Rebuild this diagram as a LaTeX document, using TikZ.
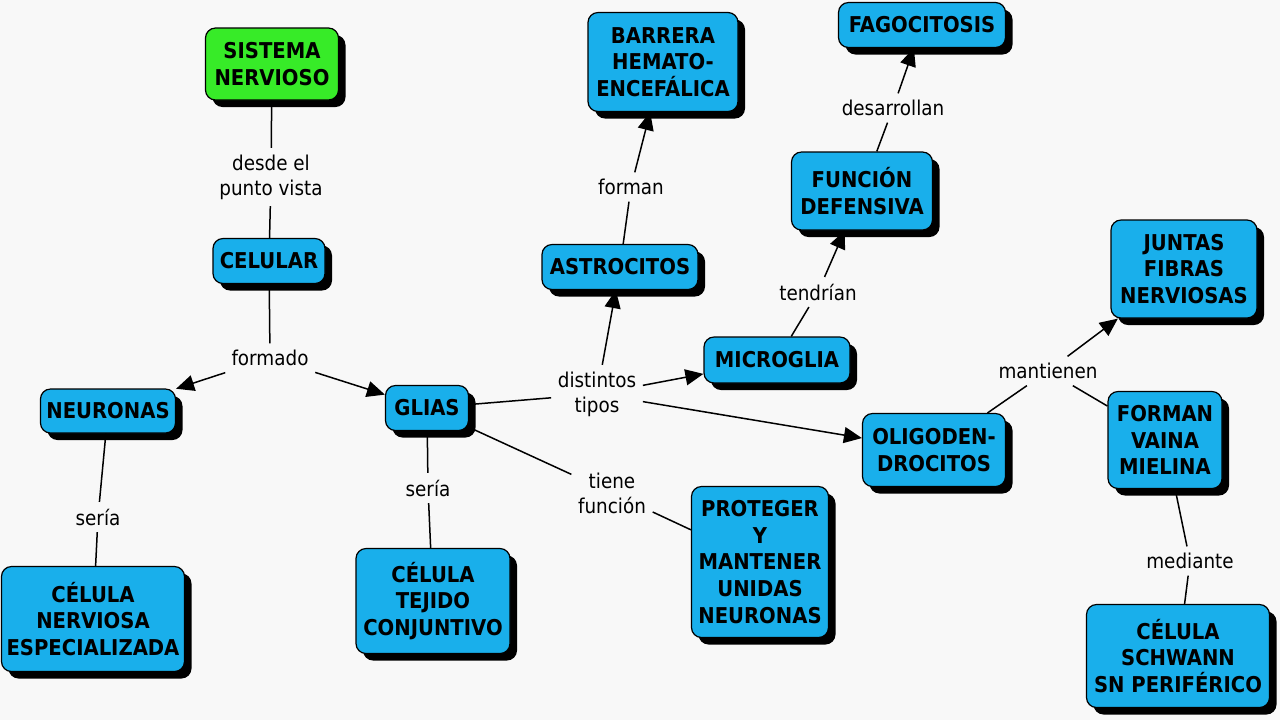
\documentclass[tikz,border=0pt]{standalone}
\usepackage{fontspec}
\setmainfont[FakeStretch=0.9]{DejaVu Sans}
\usetikzlibrary{arrows.meta,shadows}
\definecolor{azul}{RGB}{25,175,235}
\definecolor{verde}{RGB}{55,235,40}
\definecolor{fondo}{RGB}{248,248,248}
\tikzset{
  concepto/.style={draw, line width=0.6pt, rounded corners=5pt, fill=azul, align=center,
    font=\bfseries\fontsize{10.9}{13.4}\selectfont, inner sep=1pt,
    drop shadow={shadow xshift=3.5pt, shadow yshift=-3.5pt, fill=black, opacity=1}},
  tam/.style 2 args={minimum width=#1*0.5pt, minimum height=#2*0.5pt},
  enlace/.style={align=center, font=\fontsize{10.2}{12.5}\selectfont, inner sep=3pt},
  flecha/.style={-{Triangle[length=9pt,width=8pt]}}
}

\begin{document}
\begin{tikzpicture}[x=0.5pt,y=-0.5pt,line width=0.75pt]
          \fill[fondo] (0,0) rectangle (1280,720);
          \useasboundingbox (0,0) rectangle (1280,720);
          % conceptos
          \node[concepto, fill=verde, tam={133}{72}](sn) at (272,64){SISTEMA\\NERVIOSO};
          \node[concepto, tam={112}{45}](cel) at (269,261){CELULAR};
          \node[concepto, tam={135}{44}](neur) at (108,411){NEURONAS};
          \node[concepto, tam={83}{45}](glias) at (427,408){GLIAS};
          \node[concepto, tam={183}{105}](cnerv) at (93,619){CÉLULA\\NERVIOSA\\ESPECIALIZADA};
          \node[concepto, tam={154}{105}](ctej) at (433,601){CÉLULA\\TEJIDO\\CONJUNTIVO};
          \node[concepto, tam={137}{151}](prot) at (760,562){PROTEGER\\Y\\MANTENER\\UNIDAS\\NEURONAS};
          \node[concepto, tam={156}{45}](astro) at (620,267){ASTROCITOS};
          \node[concepto, tam={150}{99}](barr) at (663,62){BARRERA\\HEMATO-\\ENCEFÁLICA};
          \node[concepto, tam={146}{46}](micro) at (777,360){MICROGLIA};
          \node[concepto, tam={141}{78}](fdef) at (862,191){FUNCIÓN\\DEFENSIVA};
          \node[concepto, tam={167}{45}](fago) at (922,25){FAGOCITOSIS};
          \node[concepto, tam={143}{73}](oligo) at (934,450){OLIGODEN-\\DROCITOS};
          \node[concepto, tam={146}{98}](juntas) at (1184,269){JUNTAS\\FIBRAS\\NERVIOSAS};
          \node[concepto, tam={114}{97}](vaina) at (1165,440){FORMAN\\VAINA\\MIELINA};
          \node[concepto, tam={183}{103}](schw) at (1178,656){CÉLULA\\SCHWANN\\SN PERIFÉRICO};
          % enlaces
          \node[enlace](desde) at (271,177){desde el\\punto vista};
          \node[enlace](formado) at (270,358){formado};
          \node[enlace](seria1) at (98,517){sería};
          \node[enlace](seria2) at (428,488){sería};
          \node[enlace](tipos) at (597,394){distintos\\tipos};
          \node[enlace](funcion) at (612,493){tiene\\función};
          \node[enlace](forman) at (631,187){forman};
          \node[enlace](tendrian) at (818,292){tendrían};
          \node[enlace](desarr) at (893,108){desarrollan};
          \node[enlace](mant) at (1048,371){mantienen};
          \node[enlace](mediante) at (1190,561){mediante};
          \draw (sn) -- (desde);
          \draw (desde) -- (cel);
          \draw (cel) -- (formado);
          \draw[flecha] (formado) -- (neur);
          \draw[flecha] (formado) -- (glias);
          \draw (neur) -- (seria1);
          \draw (seria1) -- (cnerv);
          \draw (glias) -- (seria2);
          \draw (seria2) -- (ctej);
          \draw (glias) -- (tipos);
          \draw[flecha] (tipos) -- (astro);
          \draw[flecha] (tipos) -- (micro);
          \draw[flecha] (tipos) -- (oligo);
          \draw (glias) -- (funcion);
          \draw (funcion) -- (prot);
          \draw (astro) -- (forman);
          \draw[flecha] (forman) -- (barr);
          \draw (micro) -- (tendrian);
          \draw[flecha] (tendrian) -- (fdef);
          \draw (fdef) -- (desarr);
          \draw[flecha] (desarr) -- (fago);
          \draw (oligo) -- (mant);
          \draw[flecha] (mant) -- (juntas);
          \draw (mant) -- (vaina);
          \draw (vaina) -- (mediante);
          \draw (mediante) -- (schw);
        \end{tikzpicture}
\end{document}
